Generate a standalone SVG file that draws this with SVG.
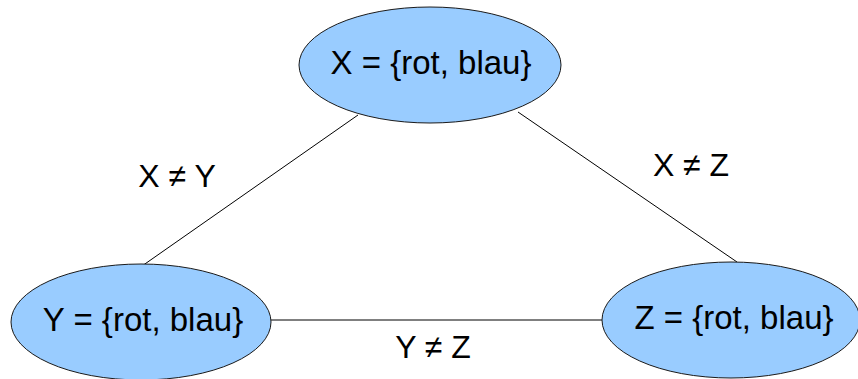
<svg xmlns="http://www.w3.org/2000/svg" width="858" height="379" viewBox="0 0 858 379">
  <style>
    .node ellipse { fill: #99ccff; stroke: #1a1a1a; stroke-width: 1; }
    .node text, .label { font-family: "Liberation Sans", Arial, sans-serif; fill: #000; text-anchor: middle; }
    .node text { font-size: 33px; }
    .label { font-size: 32px; }
    .edges line { stroke: #000; stroke-width: 1; }
  </style>
  <rect width="858" height="379" fill="#fff"/>
  <g id="edges" class="edges">
    <line x1="358" y1="115" x2="142" y2="266"/>
    <line x1="518" y1="112" x2="737" y2="262"/>
    <line x1="271" y1="320" x2="602" y2="320"/>
  </g>
  <g id="edge-labels">
    <text class="label" x="177" y="187">X ≠ Y</text>
    <text class="label" x="691" y="176">X ≠ Z</text>
    <text class="label" x="433" y="358">Y ≠ Z</text>
  </g>
  <g id="node-x" class="node">
    <ellipse cx="430" cy="65" rx="131" ry="58"/>
    <text x="431" y="74">X = {rot, blau}</text>
  </g>
  <g id="node-y" class="node">
    <ellipse cx="141" cy="322" rx="130" ry="58"/>
    <text x="143" y="331">Y = {rot, blau}</text>
  </g>
  <g id="node-z" class="node">
    <ellipse cx="731" cy="320" rx="129" ry="58"/>
    <text x="734" y="329">Z = {rot, blau}</text>
  </g>
</svg>
